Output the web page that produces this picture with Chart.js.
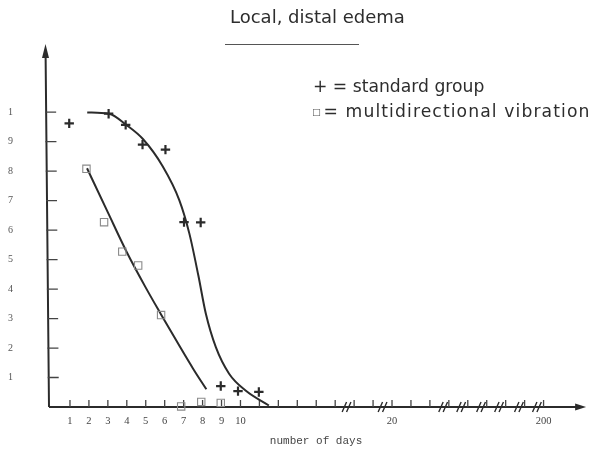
<!DOCTYPE html>
<html>
<head>
<meta charset="utf-8">
<script src="https://cdn.jsdelivr.net/npm/chart.js@4"></script>
<style>
    html, body { margin: 0; padding: 0; background: #fff; }
    #wrap { width: 591px; height: 457px; }
</style>
</head>
<body>
<div id="wrap"><canvas id="chart"></canvas></div>
<script>
const titleText = "Local, distal edema";
const standardLegend = "+ = standard group";
const vibrationMark = "\u25A1";
const vibrationLegend = "= multidirectional vibrations";

// x axis is drawn in "tick slots"; the breaks (//) hide the jumps up to 200 days
const xTickPos = [1, 2, 3, 4, 5, 6, 7, 8, 9, 10, 11, 12, 13, 14, 15, 16, 17, 18, 19, 20, 21, 22, 23, 24, 25, 26];
const xTickText = ["1", "2", "3", "4", "5", "6", "7", "8", "9", "10", "", "", "", "", "", "", "", "20", "", "", "", "", "", "", "", "200"];
const breakPos = [15.6, 17.5, 20.7, 21.65, 22.7, 23.65, 24.7, 25.65];

const yTickPos = [1, 2, 3, 4, 5, 6, 7, 8, 9, 10];
const yTickText = ["1", "2", "3", "4", "5", "6", "7", "8", "9", "1"];

const standardDays = [0.96, 3.04, 3.94, 4.83, 6.04, 7.02, 7.9, 8.96, 9.87, 10.97];
const standardValues = [9.62, 9.95, 9.57, 8.9, 8.73, 6.27, 6.26, 0.71, 0.54, 0.51];

const vibrationDays = [1.87, 2.8, 3.76, 4.6, 5.81, 6.87, 7.93, 8.96];
const vibrationValues = [8.08, 6.27, 5.27, 4.8, 3.12, 0.02, 0.17, 0.14];

const standardCurveDays = [1.91, 3.06, 3.97, 4.85, 5.9, 6.77, 7.3, 7.78, 8.17, 8.7, 9.4, 10.27, 11.5];
const standardCurveValues = [9.99, 9.95, 9.57, 9.09, 8.16, 7.02, 5.89, 4.45, 3.17, 2.03, 1.13, 0.56, 0.05];

const vibrationCurveDays = [1.9, 3.0, 4.0, 5.0, 5.8, 6.8, 7.5, 8.2];
const vibrationCurveValues = [8.1, 6.6, 5.25, 4.05, 3.15, 2.05, 1.3, 0.6];

const ink = "#2b2b2b";

const toPoints = (xs, ys) => xs.map((x, i) => ({ x: x, y: ys[i] }));

const decor = {
    id: "decor",
    beforeDatasetsDraw(chart) {
        const { ctx, chartArea } = chart;
        const xs = chart.scales.x;
        const ys = chart.scales.y;
        const x0 = chartArea.left + 1;
        const y0 = chartArea.bottom;
        const topY = chartArea.top + 10;
        // the scanned y axis leans a little to the left
        const axisX = (py) => x0 - 3.5 * (y0 - py) / (y0 - chartArea.top);
        ctx.save();
        ctx.strokeStyle = ink;
        ctx.fillStyle = ink;
        ctx.lineWidth = 2;

        // axes
        ctx.beginPath();
        ctx.moveTo(x0, y0);
        ctx.lineTo(chartArea.right - 6, y0);
        ctx.moveTo(x0, y0);
        ctx.lineTo(axisX(topY), topY);
        ctx.stroke();

        // arrow heads
        ctx.beginPath();
        ctx.moveTo(chartArea.right + 2, y0);
        ctx.lineTo(chartArea.right - 9, y0 - 3.5);
        ctx.lineTo(chartArea.right - 9, y0 + 3.5);
        ctx.closePath();
        ctx.fill();
        const ax = axisX(chartArea.top);
        ctx.beginPath();
        ctx.moveTo(ax, chartArea.top - 1);
        ctx.lineTo(ax - 3.5, chartArea.top + 13);
        ctx.lineTo(ax + 3.5, chartArea.top + 13);
        ctx.closePath();
        ctx.fill();

        // inward tick marks
        ctx.lineWidth = 1.3;
        ctx.strokeStyle = "#444";
        ctx.beginPath();
        xs.ticks.forEach((t) => {
            const px = xs.getPixelForValue(t.value);
            ctx.moveTo(px, y0);
            ctx.lineTo(px, y0 - 7);
        });
        ys.ticks.forEach((t) => {
            const py = ys.getPixelForValue(t.value);
            ctx.moveTo(axisX(py) - 1, py);
            ctx.lineTo(axisX(py) + 10, py);
        });
        ctx.stroke();

        // axis breaks
        ctx.lineWidth = 1.4;
        ctx.strokeStyle = ink;
        ctx.beginPath();
        breakPos.forEach((b) => {
            const px = xs.getPixelForValue(b);
            [-2.2, 2.2].forEach((d) => {
                ctx.moveTo(px + d - 2.2, y0 + 5);
                ctx.lineTo(px + d + 2.2, y0 - 5);
            });
        });
        ctx.stroke();
        ctx.restore();
    },
    afterDraw(chart) {
        const { ctx } = chart;
        ctx.save();
        ctx.fillStyle = "#2d2d2d";
        ctx.textBaseline = "alphabetic";
        ctx.font = "18px 'DejaVu Sans', sans-serif";
        ctx.fillText(titleText, 230, 23);

        ctx.strokeStyle = "#555";
        ctx.lineWidth = 1;
        ctx.beginPath();
        ctx.moveTo(225, 44.5);
        ctx.lineTo(359, 44.5);
        ctx.stroke();

        ctx.font = "17.2px 'DejaVu Sans', sans-serif";
        ctx.fillText(standardLegend, 313, 91.5);
        ctx.font = "9.5px 'DejaVu Sans', sans-serif";
        ctx.fillStyle = "#555";
        ctx.fillText(vibrationMark, 312, 115);
        ctx.fillStyle = "#2d2d2d";
        ctx.font = "17.2px 'DejaVu Sans', sans-serif";
        ctx.letterSpacing = "1.1px";
        ctx.fillText(vibrationLegend, 323.5, 116.5);
        ctx.restore();
    },
};

const ctx = document.getElementById("chart").getContext("2d");
const chart = new Chart(ctx, {
    type: "scatter",
    data: {
        datasets: [
            {
                label: "standard group",
                data: toPoints(standardDays, standardValues),
                pointStyle: "cross",
                pointRadius: 4.7,
                borderColor: ink,
                borderWidth: 2.2,
                clip: false,
            },
            {
                label: "multidirectional vibrations",
                data: toPoints(vibrationDays, vibrationValues),
                pointStyle: "rect",
                pointRadius: 5.2,
                borderColor: "#8a8a8a",
                backgroundColor: "rgba(0,0,0,0)",
                borderWidth: 1.1,
                clip: false,
            },
            {
                type: "line",
                label: "standard curve",
                data: toPoints(standardCurveDays, standardCurveValues),
                borderColor: ink,
                borderWidth: 2,
                pointRadius: 0,
                cubicInterpolationMode: "monotone",
                fill: false,
            },
            {
                type: "line",
                label: "vibration curve",
                data: toPoints(vibrationCurveDays, vibrationCurveValues),
                borderColor: ink,
                borderWidth: 2,
                pointRadius: 0,
                cubicInterpolationMode: "monotone",
                fill: false,
            },
        ],
    },
    options: {
        responsive: true,
        maintainAspectRatio: false,
        animation: false,
        layout: { padding: { top: 45, left: 8, right: 4, bottom: 0 } },
        plugins: {
            legend: { display: false },
            tooltip: { enabled: false },
        },
        scales: {
            x: {
                type: "linear",
                min: -0.16,
                max: 28.14,
                grid: { display: false, drawTicks: false },
                border: { display: false },
                afterBuildTicks: (s) => {
                    s.ticks = xTickPos.map((v) => ({ value: v }));
                },
                afterFit: (s) => {
                    s.height = 50;
                },
                ticks: {
                    autoSkip: false,
                    maxRotation: 0,
                    padding: 8,
                    color: "#444",
                    font: { family: "'Liberation Serif', 'DejaVu Serif', serif", size: 10.5 },
                    callback: (v, i) => xTickText[i],
                },
                title: {
                    display: true,
                    text: "number of days",
                    color: "#444",
                    font: { family: "'Liberation Mono', 'DejaVu Sans Mono', monospace", size: 11 },
                    padding: { top: 0, bottom: 9 },
                },
            },
            y: {
                min: 0,
                max: 12.28,
                grid: { display: false, drawTicks: false },
                border: { display: false },
                afterBuildTicks: (s) => {
                    s.ticks = yTickPos.map((v) => ({ value: v }));
                },
                afterFit: (s) => {
                    s.width = 40;
                },
                ticks: {
                    crossAlign: "far",
                    padding: 0,
                    color: "#555",
                    font: { family: "'Liberation Serif', 'DejaVu Serif', serif", size: 10 },
                    callback: (v, i) => yTickText[i],
                },
            },
        },
    },
    plugins: [decor],
});
</script>
</body>
</html>
